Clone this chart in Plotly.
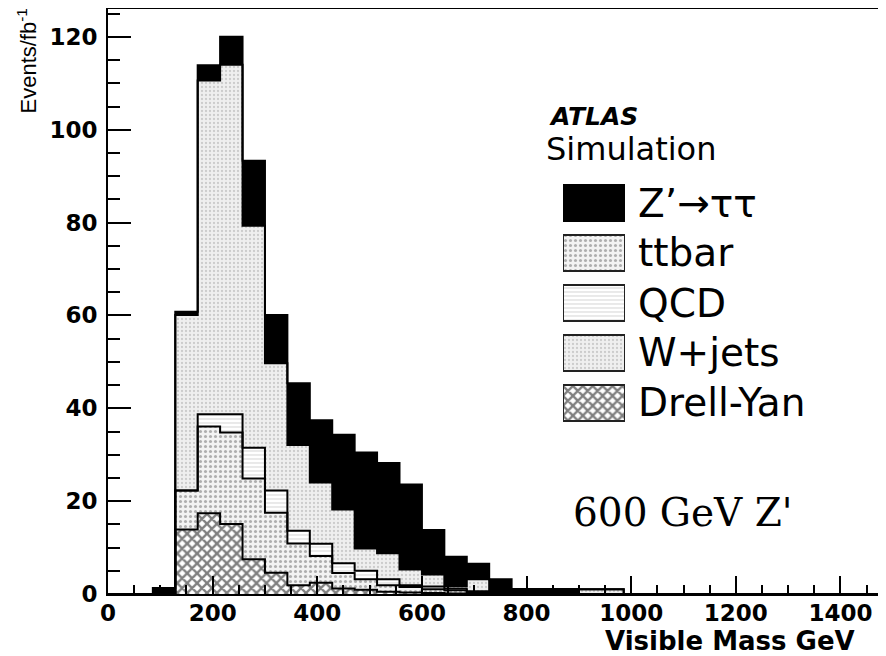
import numpy as np
import plotly.graph_objects as go

# ---- data (35 bins, 0-1500 GeV) ----
x_min, x_max, n_bins = 0.0, 1500.0, 35
dy     = [0, 0, 0, 13.9, 17.4, 15.1, 7.5, 4.6, 1.9, 2.4, 1.2, 0.9, 0.5, 0.3, 0.2, 0.1, 0, 0, 0, 0, 0, 0, 0, 0, 0, 0, 0, 0, 0, 0, 0, 0, 0, 0, 0]
ttbar  = [0, 0, 0, 8.4, 18.7, 19.7, 17.4, 12.9, 9.0, 5.8, 3.3, 2.3, 1.4, 1.2, 0.8, 0.7, 0.4, 0.1, 0, 0, 0, 0, 0, 0, 0, 0, 0, 0, 0, 0, 0, 0, 0, 0, 0]
qcd    = [0, 0, 0, 0, 2.6, 3.9, 6.6, 4.8, 2.7, 2.6, 2.1, 1.8, 1.3, 0.4, 0.6, 0.4, 0.2, 0.1, 0, 0, 0, 0, 0, 0, 0, 0, 0, 0, 0, 0, 0, 0, 0, 0, 0]
wjets  = [0, 0, 0, 37.8, 71.9, 75.3, 47.8, 27.4, 18.5, 13.2, 11.6, 4.8, 5.6, 3.4, 2.6, 0.5, 2.6, 0.1, 0, 0, 0, 1.0, 1.0, 0, 0, 0, 0, 0, 0, 0, 0, 0, 0, 0, 0]
zprime = [0, 0, 1.3, 0.7, 3.3, 6.0, 14.0, 10.4, 13.3, 13.4, 16.1, 20.7, 19.4, 18.3, 9.6, 6.3, 3.3, 2.9, 1.1, 1.1, 1.1, 0, 0, 0, 0, 0, 0, 0, 0, 0, 0, 0, 0, 0, 0]

legend_labels = ["Z’→ττ", "ttbar", "QCD", "W+jets", "Drell-Yan"]
x_tick_vals = [0, 200, 400, 600, 800, 1000, 1200, 1400]
y_tick_vals = [0, 20, 40, 60, 80, 100, 120]

edges = np.linspace(x_min, x_max, n_bins + 1)
centers = 0.5 * (edges[:-1] + edges[1:])
bw = edges[1] - edges[0]

# styles
styles = {
    "dy":     dict(shape="x", fgcolor="#000000", bgcolor="#ffffff", size=7, solidity=0.55),
    "ttbar":  dict(shape=".", fgcolor="#6a6a6a", bgcolor="#f3f3f3", size=5, solidity=0.3),
    "qcd":    dict(shape="-", fgcolor="#b8b8b8", bgcolor="#ffffff", size=4, solidity=0.3),
    "wjets":  dict(shape=".", fgcolor="#a8a8a8", bgcolor="#efefef", size=4, solidity=0.25),
    "zprime": dict(shape="", fgcolor="#000000", bgcolor="#000000", size=8, solidity=0.5),
}

# page offset (browser body margin) and plot area in screen pixels
OFF = 8
L, R, T, B = 108, 886, 9, 594
W_, H_ = 886 - OFF, 656 - OFF


def xp(px):
    return (px - L) / (R - L)


def yp(py):
    return (B - py) / (B - T)


fig = go.Figure()

stack = [("dy", dy), ("ttbar", ttbar), ("qcd", qcd), ("wjets", wjets), ("zprime", zprime)]
for name, vals in stack:
    st = styles[name]
    color = "#000000" if name == "zprime" else st["bgcolor"]
    pattern = dict(shape=st["shape"], fgcolor=st["fgcolor"], bgcolor=st["bgcolor"],
                   size=st["size"], solidity=st["solidity"]) if st["shape"] else dict(shape="")
    fig.add_trace(go.Bar(x=centers, y=vals, width=bw, name=name,
                         marker=dict(color=color, line=dict(width=0), pattern=pattern),
                         hoverinfo="skip"))

# step outlines of cumulative stack
cum = np.zeros(n_bins)
for name, vals in stack:
    cum = cum + np.array(vals, dtype=float)
    ys = np.append(cum, cum[-1])
    fig.add_trace(go.Scatter(x=edges, y=ys, mode="lines", line=dict(shape="hv", color="black", width=2),
                             hoverinfo="skip"))

# legend boxes on an auxiliary axis pair
leg_order = ["zprime", "ttbar", "qcd", "wjets", "dy"]
for i, key in enumerate(leg_order):
    st = styles[key]
    if key == "zprime":
        mk = dict(color="#000000", line=dict(color="black", width=2))
    else:
        mk = dict(color=st["bgcolor"], line=dict(color="#222222", width=2),
                  pattern=dict(shape=st["shape"], fgcolor=st["fgcolor"], bgcolor=st["bgcolor"],
                               size=st["size"], solidity=st["solidity"]))
    fig.add_trace(go.Bar(x=[1], y=[i], base=0, orientation="h", width=36 / 49.7, marker=mk,
                         xaxis="x2", yaxis="y2", hoverinfo="skip"))

annotations = []
leg_y = [203, 253, 303, 352, 402]
for lab, py in zip(legend_labels, leg_y):
    annotations.append(dict(x=xp(636), y=yp(py), xref="paper", yref="paper", text=lab, showarrow=False,
                            xanchor="left", yanchor="middle",
                            font=dict(family="DejaVu Sans", size=39, color="black")))

annotations += [
    dict(x=xp(547), y=yp(116), xref="paper", yref="paper", text="<b><i>ATLAS</i></b>", showarrow=False,
         xanchor="left", yanchor="middle", font=dict(family="DejaVu Sans", size=25, color="black")),
    dict(x=xp(544), y=yp(149), xref="paper", yref="paper", text="Simulation", showarrow=False,
         xanchor="left", yanchor="middle", font=dict(family="DejaVu Sans", size=32, color="black")),
    dict(x=xp(571), y=yp(512), xref="paper", yref="paper", text="600 GeV Z'", showarrow=False,
         xanchor="left", yanchor="middle", font=dict(family="DejaVu Serif", size=39, color="black")),
    dict(x=xp(603), y=yp(641), xref="paper", yref="paper", text="<b>Visible Mass GeV</b>", showarrow=False,
         xanchor="left", yanchor="middle", font=dict(family="DejaVu Sans", size=26, color="black")),
    dict(x=xp(26), y=yp(7), xref="paper", yref="paper", text="Events/fb<sup>-1</sup>", showarrow=False,
         textangle=-90, xanchor="center", yanchor="top",
         font=dict(family="Liberation Sans", size=22, color="black")),
]

px_per_gev = 0.5232
fig.update_layout(
    width=W_, height=H_,
    margin=dict(l=L - OFF, r=0, t=T - OFF, b=H_ - (B - OFF), pad=0, autoexpand=False),
    paper_bgcolor="white", plot_bgcolor="white",
    barmode="stack", bargap=0, showlegend=False,
    annotations=annotations,
    xaxis=dict(range=[x_min, (R - L) / px_per_gev], showgrid=False, zeroline=False, automargin=False,
               showline=True, linecolor="black", linewidth=2, mirror=True,
               ticks="inside", ticklen=18, tickwidth=2, tickcolor="black",
               tickvals=x_tick_vals, ticktext=[str(v) for v in x_tick_vals],
               tickfont=dict(family="DejaVu Sans", size=23, color="black", weight="bold"),
               ticklabelstandoff=-3,
               minor=dict(ticks="inside", ticklen=9, tickwidth=1.5, tickcolor="black", dtick=50, showgrid=False)),
    yaxis=dict(range=[0, 126], showgrid=False, zeroline=False, automargin=False,
               showline=True, linecolor="black", linewidth=2,
               ticks="inside", ticklen=23, tickwidth=2, tickcolor="black",
               tickvals=y_tick_vals, ticktext=[str(v) for v in y_tick_vals],
               tickfont=dict(family="DejaVu Sans", size=23, color="black", weight="bold"),
               ticklabelstandoff=4,
               minor=dict(ticks="inside", ticklen=12, tickwidth=1.5, tickcolor="black", dtick=5, showgrid=False)),
    xaxis2=dict(domain=[xp(563), xp(625)], range=[0, 1], visible=False, anchor="y2", fixedrange=True),
    yaxis2=dict(domain=[yp(428), yp(178)], range=[4.5, -0.5], visible=False, anchor="x2", fixedrange=True),
)

fig.write_html("out.html")
